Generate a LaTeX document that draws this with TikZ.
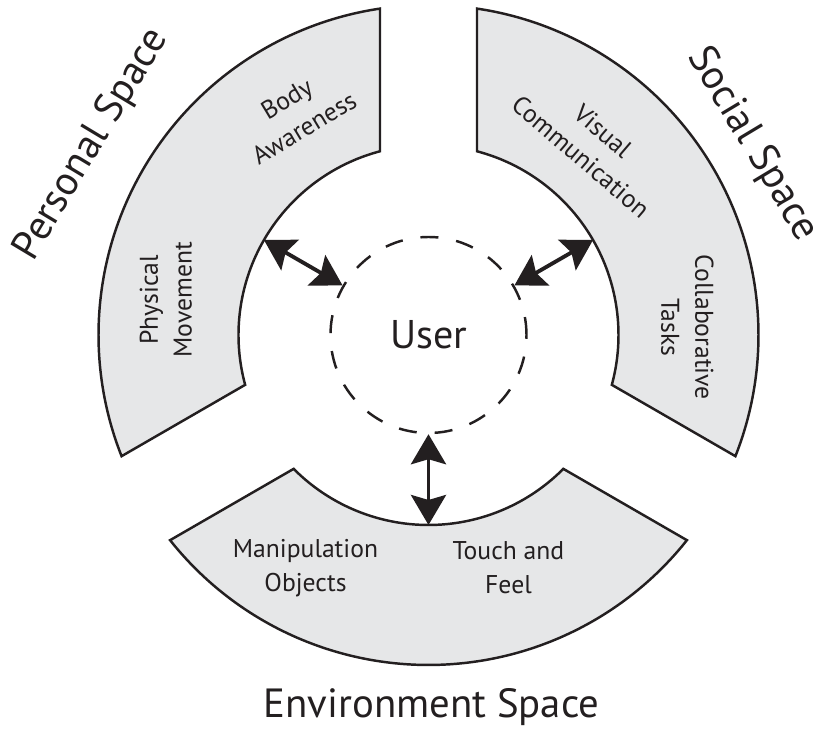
\documentclass[tikz,border=0pt]{standalone}
\usepackage{fontspec}
\setmainfont{PT Sans}
\usetikzlibrary{arrows.meta}
\definecolor{ink}{HTML}{231F20}
\definecolor{panel}{HTML}{E6E7E8}
\def\rin{3.8}
\def\rout{6.6}
\def\gap{0.97}
\pgfmathsetmacro\din{asin(\gap/\rin)}
\pgfmathsetmacro\dout{asin(\gap/\rout)}
\tikzset{
  space/.style={draw=ink, fill=panel, line width=1.4pt},
  item/.style={text=ink, align=center, font=\fontsize{14.6}{19.3}\selectfont},
  title/.style={text=ink, font=\fontsize{23.2}{28}\selectfont},
}
\begin{document}
\begin{tikzpicture}[>={Stealth[length=0.6cm, width=0.7cm, inset=0.1cm]}]
    \useasboundingbox (-8.57,-7.92) rectangle (7.85,6.70);
    % the three spaces round the user
    \foreach \a in {90,210,330}
      \draw[space] (\a+\dout:\rout) arc[start angle=\a+\dout, end angle=\a+120-\dout, radius=\rout]
        -- (\a+120-\din:\rin) arc[start angle=\a+120-\din, end angle=\a+\din, radius=\rin] -- cycle;
    \node[circle, draw=ink, line width=1.4pt, dash pattern=on 0.36cm off 0.36cm,
          minimum size=3.92cm, text=ink, font=\fontsize{22.8}{26}\selectfont] (user) at (0,0) {User};
    \coordinate (pers) at (150:\rin);
    \coordinate (soc) at (30:\rin);
    \coordinate (env) at (270:\rin);
    \draw[<->, ink, line width=2.2pt] (user) -- (pers);
    \draw[<->, ink, line width=2.2pt] (user) -- (soc);
    \draw[<->, ink, line width=2.2pt] (user) -- (env);
    \node[title, rotate=59] (perst) at (150.5:7.74) {Personal Space};
    \node[title, rotate=-59] (soct) at (30.5:7.52) {Social Space};
    \node[title, anchor=base] (envt) at (0.06,-7.66) {Environment Space};
    \node[item, rotate=31] (body) at (121:5.17) {Body\\Awareness};
    \node[item, rotate=90] (move) at (172.4:5.3) {Physical\\Movement};
    \node[item, rotate=-40.5] (vis) at (49.5:5.03) {Visual\\Communication};
    \node[item, rotate=-90] (collab) at (1.7:5.18) {Collaborative\\Tasks};
    \node[item] (manip) at (-2.46,-4.66) {Manipulation\\Objects};
    \node[item] (touch) at (1.6,-4.66) {Touch and\\Feel};
\end{tikzpicture}
\end{document}
